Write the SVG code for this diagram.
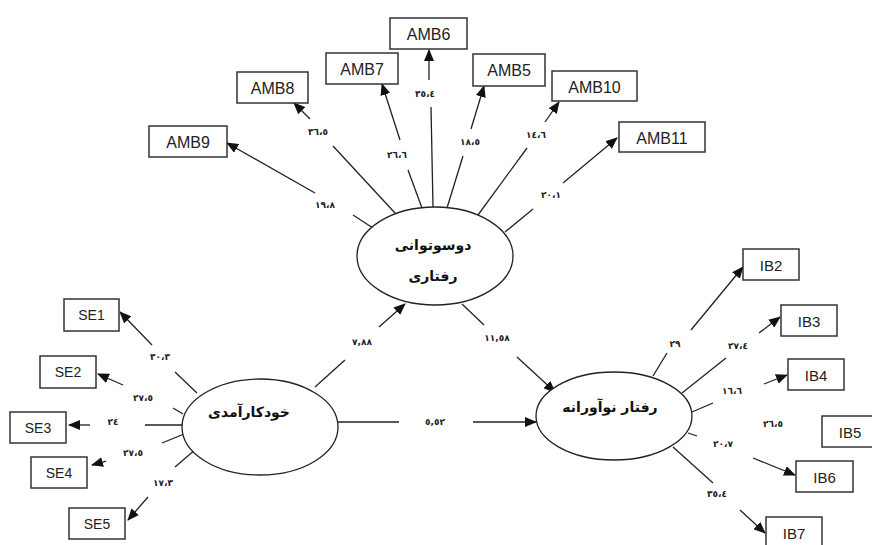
<svg xmlns="http://www.w3.org/2000/svg" width="872" height="545" viewBox="0 0 872 545">
<style>
.box{fill:#fff;stroke:#333;stroke-width:1.5}
.bt{font-family:"Liberation Sans",Arial,sans-serif;fill:#222;text-anchor:middle;dominant-baseline:central}
.ell{fill:#fff;stroke:#222;stroke-width:1.3}
.et{font-family:"DejaVu Sans",sans-serif;font-weight:bold;font-size:14px;fill:#111;text-anchor:middle}
.ln{stroke:#222;stroke-width:1.3;fill:none}
.ar{stroke:#222;stroke-width:1.3;fill:none;marker-end:url(#ah)}
.lb{font-family:"DejaVu Sans",sans-serif;font-weight:bold;font-size:9px;fill:#222;text-anchor:middle;dominant-baseline:central;letter-spacing:2px}
</style>
<defs>
<marker id="ah" markerWidth="12" markerHeight="10" refX="11" refY="5" orient="auto" markerUnits="userSpaceOnUse">
<path d="M0,0 L12,5 L0,10 Z" fill="#111"/>
</marker>
</defs>
<rect width="872" height="545" fill="#fff"/>

<g id="connectors">
<!-- AMB -->
<line class="ln" x1="373" y1="228" x2="353" y2="215"/>
<line class="ar" x1="315" y1="193" x2="227" y2="143"/>
<line class="ln" x1="395" y1="213" x2="333" y2="146"/>
<line class="ar" x1="310" y1="119" x2="294" y2="103"/>
<line class="ln" x1="422" y1="208" x2="408" y2="170"/>
<line class="ar" x1="400" y1="140" x2="382" y2="84"/>
<line class="ln" x1="433" y1="207" x2="431" y2="107"/>
<line class="ar" x1="429" y1="80" x2="429" y2="50"/>
<line class="ln" x1="447" y1="208" x2="463" y2="156"/>
<line class="ar" x1="471" y1="129" x2="484" y2="86"/>
<line class="ln" x1="478" y1="215" x2="527" y2="148"/>
<line class="ar" x1="545" y1="122" x2="559" y2="102"/>
<line class="ln" x1="505" y1="232" x2="533" y2="209"/>
<line class="ar" x1="563" y1="183" x2="617" y2="138"/>
<!-- SE -->
<line class="ln" x1="197" y1="393" x2="175" y2="372"/>
<line class="ar" x1="152" y1="345" x2="120" y2="312"/>
<line class="ln" x1="183" y1="414" x2="173" y2="408"/>
<line class="ar" x1="123" y1="385" x2="98" y2="374"/>
<line class="ln" x1="183" y1="425" x2="145" y2="425"/>
<line class="ar" x1="90" y1="425" x2="69" y2="425"/>
<line class="ln" x1="184" y1="434" x2="162" y2="443"/>
<line class="ar" x1="106" y1="461" x2="92" y2="465"/>
<line class="ln" x1="196" y1="449" x2="175" y2="467"/>
<line class="ar" x1="148" y1="497" x2="128" y2="520"/>
<!-- IB -->
<line class="ln" x1="653" y1="376" x2="667" y2="353"/>
<line class="ar" x1="691" y1="330" x2="743" y2="267"/>
<line class="ln" x1="682" y1="393" x2="726" y2="358"/>
<line class="ar" x1="759" y1="333" x2="780" y2="317"/>
<line class="ln" x1="692" y1="412" x2="713" y2="403"/>
<line class="ar" x1="764" y1="384" x2="787" y2="375"/>
<line class="ln" x1="688" y1="433" x2="697" y2="436"/>
<line class="ar" x1="753" y1="458" x2="795" y2="475"/>
<line class="ln" x1="673" y1="447" x2="713" y2="483"/>
<line class="ar" x1="740" y1="510" x2="765" y2="533"/>
<!-- structural paths -->
<line class="ln" x1="315" y1="387" x2="345" y2="360"/>
<line class="ar" x1="379" y1="327" x2="405" y2="304"/>
<line class="ln" x1="462" y1="304" x2="484" y2="325"/>
<line class="ar" x1="517" y1="357" x2="555" y2="392"/>
<line class="ln" x1="338" y1="422" x2="399" y2="422"/>
<line class="ar" x1="473" y1="422" x2="536" y2="422"/>
</g>

<g id="labels">
<text class="lb" x="325" y="205">١٩،٨</text>
<text class="lb" x="318" y="132">٣٦،٥</text>
<text class="lb" x="397" y="155">٢٦،٦</text>
<text class="lb" x="425" y="94">٣٥،٤</text>
<text class="lb" x="470" y="142">١٨،٥</text>
<text class="lb" x="536" y="135">١٤،٦</text>
<text class="lb" x="551" y="195">٢٠،١</text>
<text class="lb" x="160" y="357">٣٠،٣</text>
<text class="lb" x="143" y="398">٢٧،٥</text>
<text class="lb" x="113" y="422">٢٤</text>
<text class="lb" x="133" y="453">٢٧،٥</text>
<text class="lb" x="163" y="483">١٧،٣</text>
<text class="lb" x="675" y="344">٢٩</text>
<text class="lb" x="738" y="346">٢٧،٤</text>
<text class="lb" x="732" y="391">١٦،٦</text>
<text class="lb" x="773" y="424">٢٦،٥</text>
<text class="lb" x="723" y="444">٢٠،٧</text>
<text class="lb" x="717" y="494">٣٥،٤</text>
<text class="lb" x="362" y="342">٧,٨٨</text>
<text class="lb" x="497" y="338">١١,٥٨</text>
<text class="lb" x="435" y="422">٥,٥٢</text>
</g>

<g id="n-amb">
<ellipse class="ell" cx="435" cy="256" rx="78" ry="49"/>
<text class="et" x="433" y="250">دوسوتوانی</text>
<text class="et" x="433" y="281">رفتاری</text>
</g>
<g id="n-se">
<ellipse class="ell" cx="260" cy="427" rx="78" ry="48"/>
<text class="et" x="249" y="417">خودکارآمدی</text>
</g>
<g id="n-ib">
<ellipse class="ell" cx="614" cy="416" rx="78" ry="44"/>
<text class="et" x="610" y="412">رفتار نوآورانه</text>
</g>

<g id="AMB9"><rect class="box" x="149" y="126" width="78" height="31"/><text class="bt" x="188" y="142" font-size="16">AMB9</text></g>
<g id="AMB8"><rect class="box" x="237" y="72" width="71" height="31"/><text class="bt" x="272.5" y="88" font-size="16">AMB8</text></g>
<g id="AMB7"><rect class="box" x="326" y="53" width="72" height="31"/><text class="bt" x="362" y="69" font-size="16">AMB7</text></g>
<g id="AMB6"><rect class="box" x="390" y="18" width="77" height="31"/><text class="bt" x="428.5" y="34" font-size="16">AMB6</text></g>
<g id="AMB5"><rect class="box" x="473" y="54" width="72" height="32"/><text class="bt" x="509" y="70" font-size="16">AMB5</text></g>
<g id="AMB10"><rect class="box" x="552" y="71" width="85" height="30"/><text class="bt" x="594.5" y="87" font-size="16">AMB10</text></g>
<g id="AMB11"><rect class="box" x="619" y="122" width="86" height="30"/><text class="bt" x="662" y="138" font-size="16">AMB11</text></g>

<g id="SE1"><rect class="box" x="64" y="299" width="55" height="32"/><text class="bt" x="91.5" y="315" font-size="14">SE1</text></g>
<g id="SE2"><rect class="box" x="40" y="356" width="56" height="32"/><text class="bt" x="68" y="372" font-size="14">SE2</text></g>
<g id="SE3"><rect class="box" x="10" y="412" width="56" height="31"/><text class="bt" x="38" y="428" font-size="14">SE3</text></g>
<g id="SE4"><rect class="box" x="31" y="457" width="56" height="31"/><text class="bt" x="59" y="473" font-size="14">SE4</text></g>
<g id="SE5"><rect class="box" x="69" y="508" width="56" height="31"/><text class="bt" x="97" y="524" font-size="14">SE5</text></g>

<g id="IB2"><rect class="box" x="743" y="249" width="56" height="31"/><text class="bt" x="771" y="265" font-size="15">IB2</text></g>
<g id="IB3"><rect class="box" x="781" y="305" width="56" height="31"/><text class="bt" x="809" y="321" font-size="15">IB3</text></g>
<g id="IB4"><rect class="box" x="788" y="359" width="56" height="31"/><text class="bt" x="816" y="375" font-size="15">IB4</text></g>
<g id="IB5"><rect class="box" x="822" y="416" width="56" height="31"/><text class="bt" x="850" y="432" font-size="15">IB5</text></g>
<g id="IB6"><rect class="box" x="796" y="461" width="57" height="31"/><text class="bt" x="824.5" y="477" font-size="15">IB6</text></g>
<g id="IB7"><rect class="box" x="766" y="517" width="56" height="31"/><text class="bt" x="794" y="533" font-size="15">IB7</text></g>
</svg>
